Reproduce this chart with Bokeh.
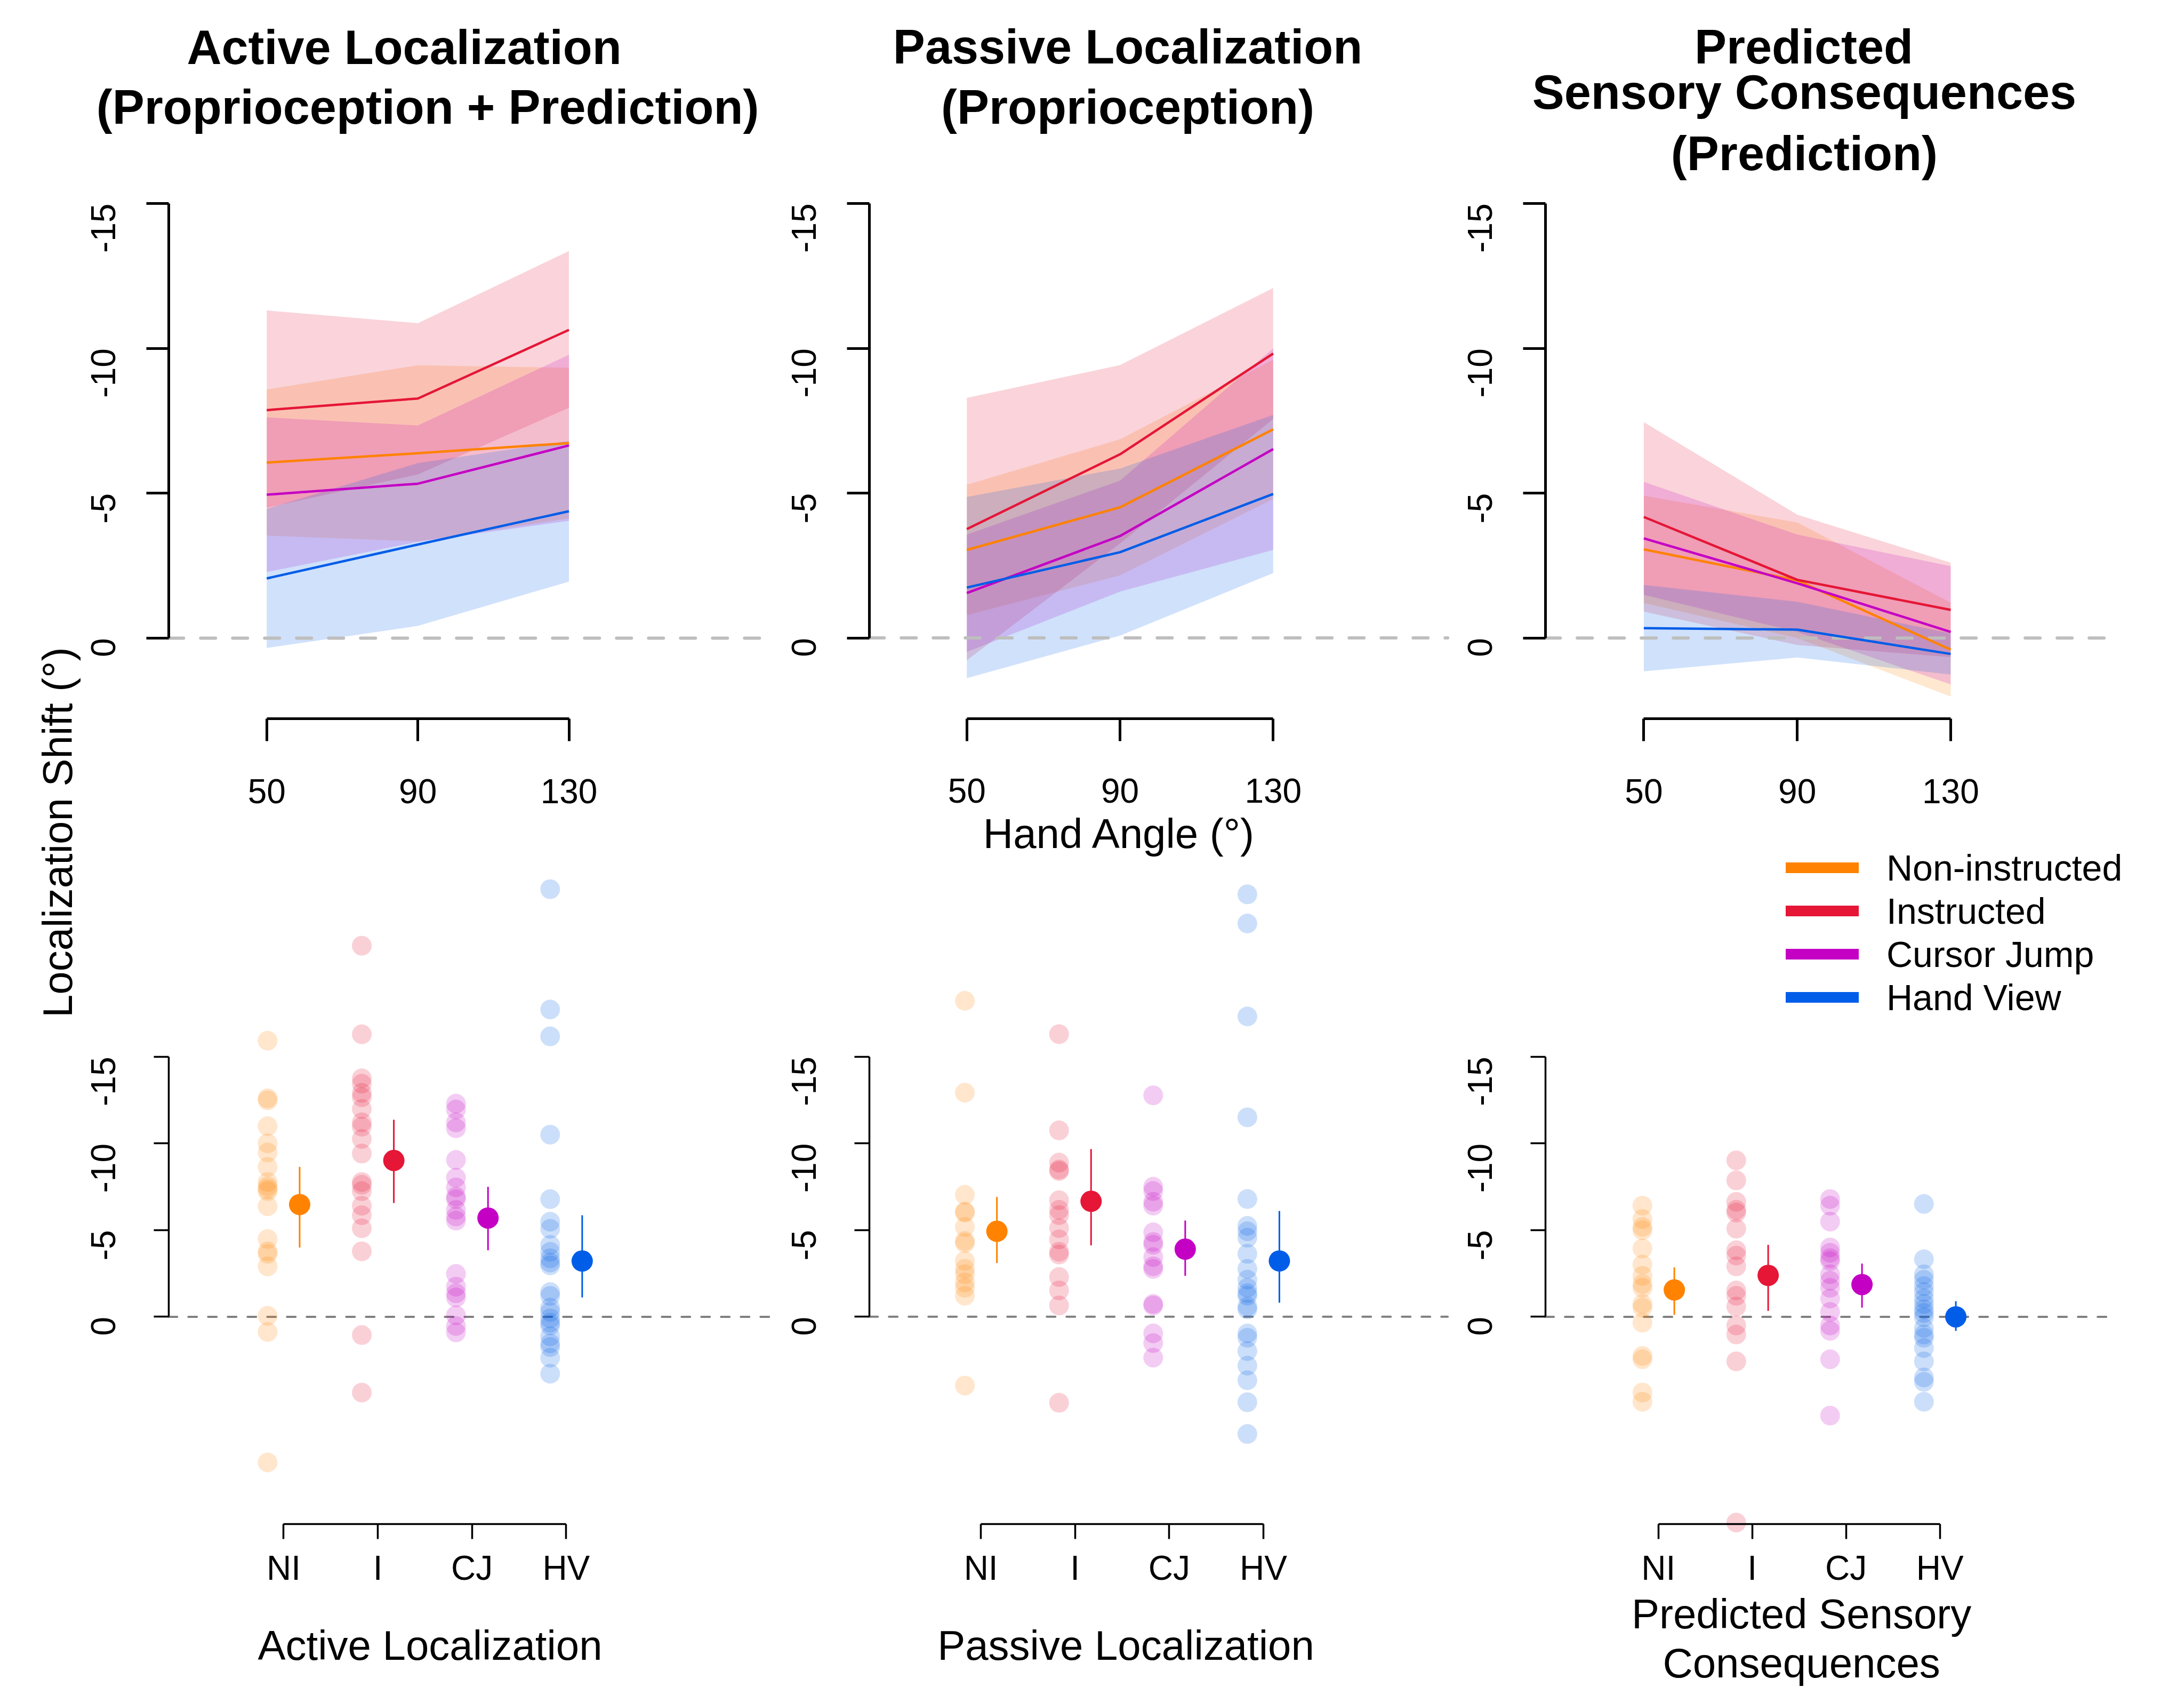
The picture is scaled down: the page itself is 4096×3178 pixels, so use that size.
import math
from bokeh.plotting import figure
from bokeh.models import Range1d, FixedTicker, Label, Legend, LegendItem
from bokeh.layouts import row, column
from bokeh.embed import file_html
from bokeh.resources import INLINE

# ---------------- data ----------------
angles = [50, 90, 130]
group_names = ["Non-instructed", "Instructed", "Cursor Jump", "Hand View"]
group_ticks = ["NI", "I", "CJ", "HV"]
group_colors = ["#FF8200", "#E51636", "#C400C4", "#005DE8"]
y_ticks = [-15, -10, -5, 0]

panel_titles = [["Active Localization", "(Proprioception + Prediction)"],
                ["Passive Localization", "(Proprioception)"],
                ["Predicted", "Sensory Consequences", "(Prediction)"]]
bottom_titles = [["Active Localization"], ["Passive Localization"],
                 ["Predicted Sensory", "Consequences"]]
x_title = "Hand Angle (°)"
y_title = "Localization Shift (°)"

# top row: mean shift and band limits at 50, 90, 130 deg; groups NI, I, CJ, HV
active_mean = [[-6.06, -6.38, -6.73], [-7.87, -8.27, -10.64], [-4.95, -5.33, -6.65], [-2.06, -3.23, -4.38]]
active_lo = [[-3.54, -3.34, -4.13], [-4.50, -5.65, -7.95], [-2.28, -3.32, -4.05], [0.34, -0.42, -1.95]]
active_hi = [[-8.58, -9.42, -9.33], [-11.31, -10.87, -13.36], [-7.62, -7.34, -9.78], [-4.46, -6.04, -6.81]]

passive_mean = [[-3.04, -4.51, -7.20], [-3.76, -6.34, -9.82], [-1.55, -3.52, -6.52], [-1.74, -2.96, -4.97]]
passive_lo = [[-0.79, -2.16, -4.80], [0.77, -3.26, -7.56], [0.48, -1.60, -3.04], [1.39, -0.08, -2.24]]
passive_hi = [[-5.29, -6.86, -9.60], [-8.29, -9.42, -12.08], [-3.57, -5.43, -10.00], [-4.87, -5.85, -7.70]]

predicted_mean = [[-3.06, -1.99, 0.40], [-4.18, -2.01, -0.97], [-3.44, -1.89, -0.21], [-0.34, -0.29, 0.55]]
predicted_lo = [[-1.21, 0.00, 2.02], [-0.91, 0.24, 0.66], [-1.49, -0.21, 1.60], [1.15, 0.67, 1.26]]
predicted_hi = [[-4.91, -3.99, -1.22], [-7.45, -4.26, -2.60], [-5.39, -3.57, -2.48], [-1.83, -1.25, -0.16]]

# bottom row: individual participants (NI, I, CJ, HV) and group mean with CI
active_pts = [
    [-15.93, -12.61, -12.49, -11.0, -10.01, -9.48, -8.65, -7.78, -7.53, -7.37, -7.25, -6.38, -4.49, -3.78, -3.63, -2.91, -0.06, 0.87, 8.4],
    [-21.41, -16.3, -13.76, -13.45, -12.92, -12.67, -11.99, -11.22, -10.97, -10.26, -9.42, -7.78, -7.62, -7.25, -6.41, -5.86, -5.11, -3.78, 1.05, 4.37],
    [-12.3, -11.96, -11.22, -10.88, -9.05, -8.03, -7.47, -6.94, -6.79, -6.17, -5.79, -5.55, -2.48, -1.74, -1.36, -1.12, -0.09, 0.53, 0.9],
    [-24.67, -17.73, -16.18, -10.51, -6.79, -5.49, -5.08, -4.15, -3.75, -3.38, -3.13, -2.97, -1.43, -1.21, -0.53, -0.28, 0.09, 0.34, 0.5, 1.12, 1.53, 1.74, 2.36, 3.28],
]
active_avg = [-6.48, -9.02, -5.70, -3.22]
active_ci_lo = [-8.65, -11.37, -7.50, -5.86]
active_ci_hi = [-4.00, -6.57, -3.84, -1.12]

passive_pts = [
    [-18.22, -12.92, -7.03, -6.07, -6.01, -5.18, -4.37, -4.25, -3.22, -2.76, -2.45, -1.98, -1.67, -1.21, 3.97],
    [-16.3, -10.75, -8.89, -8.49, -8.4, -6.72, -6.17, -5.86, -5.11, -4.46, -3.75, -3.59, -2.29, -1.52, -0.65, 4.96],
    [-12.77, -7.5, -7.25, -6.63, -6.41, -4.87, -4.31, -4.15, -3.44, -2.91, -2.76, -0.74, -0.65, 0.96, 1.52, 2.36],
    [-24.36, -22.68, -17.32, -11.5, -6.79, -5.24, -4.93, -4.56, -3.63, -2.76, -2.14, -1.67, -1.36, -1.21, -0.59, -0.43, 0.96, 1.21, 1.98, 2.82, 3.66, 4.93, 6.76],
]
passive_avg = [-4.93, -6.66, -3.90, -3.22]
passive_ci_lo = [-6.91, -9.67, -5.55, -6.10]
passive_ci_hi = [-3.10, -4.12, -2.36, -0.81]

predicted_pts = [
    [-6.41, -5.64, -5.18, -4.99, -3.94, -3.01, -2.36, -1.89, -1.67, -0.74, -0.53, 0.34, 2.26, 2.45, 4.37, 4.9],
    [-9.02, -7.87, -6.63, -6.17, -6.01, -5.08, -3.84, -3.53, -2.91, -1.52, -1.21, -0.59, 0.5, 1.02, 2.57, 11.87],
    [-6.79, -6.41, -5.49, -4.0, -3.69, -3.38, -3.22, -2.45, -2.08, -1.67, -1.05, -0.28, 0.5, 0.81, 2.45, 5.7],
    [-6.51, -3.32, -2.45, -2.14, -1.77, -1.43, -1.05, -0.74, -0.43, -0.22, 0.03, 0.65, 1.02, 1.21, 1.8, 2.57, 3.5, 3.75, 4.9],
]
predicted_avg = [-1.55, -2.39, -1.86, 0.00]
predicted_ci_lo = [-2.85, -4.15, -3.07, -0.90]
predicted_ci_hi = [-0.12, -0.34, -0.53, 0.81]

top_sets = [(active_mean, active_lo, active_hi),
            (passive_mean, passive_lo, passive_hi),
            (predicted_mean, predicted_lo, predicted_hi)]
bottom_sets = [(active_pts, active_avg, active_ci_lo, active_ci_hi),
               (passive_pts, passive_avg, passive_ci_lo, passive_ci_hi),
               (predicted_pts, predicted_avg, predicted_ci_lo, predicted_ci_hi)]

# ---------------- layout (reference pixel geometry, scaled by K) ----------------
K = 0.88
FONT = "Liberation Sans"
REF_H = 3593
TOTAL_H = round(REF_H * K)
STRIP_W = 174

cols = [dict(x0=174, x1=1650, fl=359, fr=1645, split=1800),
        dict(x0=1650, x1=3090, fl=1852, fr=3085, split=1830),
        dict(x0=3090, x1=4631, fl=3293, fr=4510, split=1790)]
TOP_AX, TOP_Y0, TOP_PPU = 1531, 1359, 61.73
BOT_AX, BOT_Y0, BOT_PPU = 3247, 2805, 36.93
top_x50 = [568, 2060, 3503]
top_ppd = [8.05, 8.1625, 8.175]
bot_x1 = [604, 2090, 3534]
bot_ppc = [200.7, 200.7, 200.0]
PT_OFF = 0.17

# text anchors (visual centres) in reference pixels
title_pos = [[(861, 100), (911, 228)], [(2403, 100), (2403, 228)],
             [(3844, 99), (3845, 196), (3845, 327)]]
bottom_title_pos = [[(916, 3505)], [(2399, 3505)], [(3839, 3438), (3839, 3542)]]
x_title_pos = (2386, 1776)
y_title_pos = (122, 1773)
LEG_LEFT, LEG_BOTTOM = 3806, 2170


def r(v):
    return int(round(v * K))


def top_x(c, px):
    return 50 + (px - top_x50[c]) / top_ppd[c]


def top_y(py):
    return (py - TOP_Y0) / TOP_PPU


def bot_x(c, px):
    return 1 + (px - bot_x1[c]) / bot_ppc[c]


def bot_y(py):
    return (py - BOT_Y0) / BOT_PPU


def base_fig(w, h, xr, yr, axes=True):
    kw = dict(width=w, height=h, x_range=Range1d(*xr), y_range=Range1d(*yr),
              output_backend="svg", toolbar_location=None, title_location=None,
              min_border_left=0, min_border_right=0, min_border_top=0, min_border_bottom=0)
    if not axes:
        kw.update(x_axis_location=None, y_axis_location=None)
    p = figure(**kw)
    p.outline_line_color = None
    p.background_fill_color = "white"
    p.border_fill_color = "white"
    p.grid.visible = False
    return p


def style_axis(ax, lw, tick_out, standoff):
    ax.axis_line_width = lw
    ax.axis_line_color = "black"
    ax.major_tick_line_width = lw
    ax.major_tick_line_color = "black"
    ax.major_tick_in = 0
    ax.major_tick_out = tick_out
    ax.minor_tick_line_color = None
    ax.major_label_text_font = FONT
    ax.major_label_text_font_size = "64px"
    ax.major_label_text_color = "black"
    ax.major_label_standoff = standoff


def add_text(p, x, y, text, size, bold=False, angle=0.0):
    p.add_layout(Label(x=x, y=y, text=text, text_font=FONT, text_font_size=size,
                       text_font_style="bold" if bold else "normal", text_color="black",
                       text_align="center", text_baseline="middle", angle=angle))


tops, bots = [], []
for c, g in enumerate(cols):
    w = r(g["x1"] - g["x0"])
    top_h = r(g["split"])
    bot_h = TOTAL_H - top_h

    # ---- top panel ----
    p = base_fig(w, top_h, (top_x(c, g["x0"]), top_x(c, g["x1"])), (top_y(g["split"]), top_y(0)))
    means, los, his = top_sets[c]
    for k in range(4):
        p.varea(x=angles, y1=los[k], y2=his[k], fill_color=group_colors[k], fill_alpha=0.184)
    p.segment(x0=[top_x(c, g["fl"])], y0=[0], x1=[top_x(c, g["fr"])], y1=[0],
              line_color="#BEBEBE", line_width=6, line_dash="28 32", line_cap="round")
    for k in range(4):
        p.line(x=angles, y=means[k], line_color=group_colors[k], line_width=4.5)
    xa, ya = p.xaxis[0], p.yaxis[0]
    style_axis(xa, 5, 42, 71)
    style_axis(ya, 5, 42, 81)
    xa.fixed_location = top_y(TOP_AX)
    ya.fixed_location = top_x(c, g["fl"])
    xa.ticker = FixedTicker(ticks=angles)
    xa.bounds = (angles[0], angles[-1])
    ya.ticker = FixedTicker(ticks=y_ticks)
    ya.bounds = (y_ticks[0], y_ticks[-1])
    ya.major_label_orientation = math.pi / 2
    ya.major_label_overrides = {t: str(t) for t in y_ticks}
    for text, (px, py) in zip(panel_titles[c], title_pos[c]):
        add_text(p, top_x(c, px), top_y(py), text, "90px", bold=True)
    if c == 1:
        add_text(p, top_x(c, x_title_pos[0]), top_y(x_title_pos[1]), x_title, "78px")
    tops.append(p)

    # ---- bottom panel ----
    q = base_fig(w, bot_h, (bot_x(c, g["x0"]), bot_x(c, g["x1"])), (bot_y(REF_H), bot_y(g["split"])))
    pts, avg, clo, chi = bottom_sets[c]
    q.segment(x0=[bot_x(c, g["fl"])], y0=[0], x1=[bot_x(c, g["fr"])], y1=[0],
              line_color="#808080", line_width=4, line_dash="16 21", line_cap="round")
    for k in range(4):
        q.scatter(x=[k + 1 - PT_OFF] * len(pts[k]), y=pts[k], size=37,
                  fill_color=group_colors[k], fill_alpha=0.2, line_color=None)
    for k in range(4):
        q.segment(x0=[k + 1 + PT_OFF], y0=[clo[k]], x1=[k + 1 + PT_OFF], y1=[chi[k]],
                  line_color=group_colors[k], line_width=3)
        q.scatter(x=[k + 1 + PT_OFF], y=[avg[k]], size=40, fill_color=group_colors[k],
                  line_color=None)
    xa, ya = q.xaxis[0], q.yaxis[0]
    style_axis(xa, 3.5, 28, 18)
    style_axis(ya, 3.5, 28, 95)
    xa.fixed_location = bot_y(BOT_AX)
    ya.fixed_location = bot_x(c, g["fl"])
    xa.ticker = FixedTicker(ticks=[1, 2, 3, 4])
    xa.bounds = (1, 4)
    xa.major_label_overrides = {k + 1: t for k, t in enumerate(group_ticks)}
    ya.ticker = FixedTicker(ticks=y_ticks)
    ya.bounds = (y_ticks[0], y_ticks[-1])
    ya.major_label_orientation = math.pi / 2
    ya.major_label_overrides = {t: str(t) for t in y_ticks}
    for text, (px, py) in zip(bottom_titles[c], bottom_title_pos[c]):
        add_text(q, bot_x(c, px), bot_y(py), text, "78px")
    if c == 2:
        dummies = [q.line(x=[math.nan], y=[math.nan], line_color=col, line_width=20, line_cap="round")
                   for col in group_colors]
        legend = Legend(items=[LegendItem(label=n, renderers=[d]) for n, d in zip(group_names, dummies)],
                        location=(r(LEG_LEFT - g["x0"]), r(REF_H - LEG_BOTTOM)),
                        orientation="vertical", glyph_width=137, glyph_height=81,
                        label_height=81, label_standoff=52, spacing=0, padding=0, margin=0,
                        border_line_color=None, background_fill_alpha=0,
                        label_text_font=FONT, label_text_font_size="68px",
                        label_text_color="black")
        q.add_layout(legend)
    bots.append(q)

# ---- y-axis title strip ----
p0 = base_fig(r(STRIP_W), TOTAL_H, (0, STRIP_W), (REF_H, 0), axes=False)
add_text(p0, y_title_pos[0], y_title_pos[1], y_title, "78px", angle=math.pi / 2)

layout = row(p0, column(tops[0], bots[0]), column(tops[1], bots[1]), column(tops[2], bots[2]))
open("out.html", "w").write(file_html(layout, INLINE, "Localization shifts"))
